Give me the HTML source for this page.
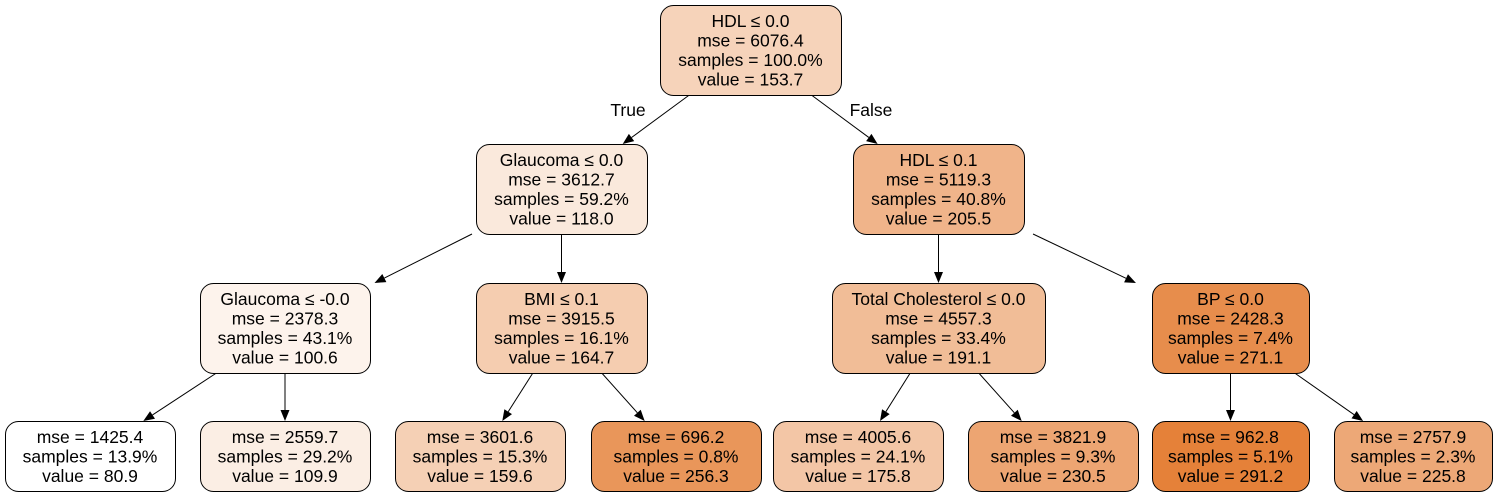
<!DOCTYPE html>
<html><head><meta charset="utf-8"><style>
html,body{margin:0;padding:0;background:#fff;}
svg{display:block;font-family:"Liberation Sans",Arial,sans-serif;}
</style></head><body>
<svg id="tree" width="1498" height="497" viewBox="0 0 1498 497"></svg>
<script>
const labels=[["HDL ≤ 0.0","mse = 6076.4","samples = 100.0%","value = 153.7"],
["Glaucoma ≤ 0.0","mse = 3612.7","samples = 59.2%","value = 118.0"],
["HDL ≤ 0.1","mse = 5119.3","samples = 40.8%","value = 205.5"],
["Glaucoma ≤ -0.0","mse = 2378.3","samples = 43.1%","value = 100.6"],
["BMI ≤ 0.1","mse = 3915.5","samples = 16.1%","value = 164.7"],
["Total Cholesterol ≤ 0.0","mse = 4557.3","samples = 33.4%","value = 191.1"],
["BP ≤ 0.0","mse = 2428.3","samples = 7.4%","value = 271.1"],
["mse = 1425.4","samples = 13.9%","value = 80.9"],
["mse = 2559.7","samples = 29.2%","value = 109.9"],
["mse = 3601.6","samples = 15.3%","value = 159.6"],
["mse = 696.2","samples = 0.8%","value = 256.3"],
["mse = 4005.6","samples = 24.1%","value = 175.8"],
["mse = 3821.9","samples = 9.3%","value = 230.5"],
["mse = 962.8","samples = 5.1%","value = 291.2"],
["mse = 2757.9","samples = 2.3%","value = 225.8"]];
const values=[153.7,118.0,205.5,100.6,164.7,191.1,271.1,80.9,109.9,159.6,256.3,175.8,230.5,291.2,225.8];
const edges=[[0,1],[0,2],[1,3],[1,4],[2,5],[2,6],[3,7],[3,8],[4,9],[4,10],[5,11],[5,12],[6,13],[6,14]];
const boxes=[[660,5,181,90],[476,144,171,90],[853,144,171,90],[200,283,170,90],[476,283,171,90],[832,283,213,90],[1152,283,157,90],
[5,421,170,70],[200,421,170,70],[395,421,170,70],[591,421,170,70],[773,421,170,70],[968,421,170,70],[1152,421,157,70],[1334,421,158,70]];
const svg=document.getElementById('tree');const NS='http://www.w3.org/2000/svg';
const vmin=Math.min(...values),vmax=Math.max(...values);
function col(v){const a=(v-vmin)/(vmax-vmin);const c=[229,129,57];return 'rgb('+c.map(x=>Math.round(255*(1-a)+x*a)).join(',')+')';}
function ctr(b){return [b[0]+b[2]/2,b[1]+b[3]/2];}
edges.forEach(([p,c],i)=>{const P=boxes[p],C=boxes[c];const [px,py]=ctr(P),[cx,cy]=ctr(C);
const y0=P[1]+P[3],y1=C[1];const x0=px+(cx-px)*(y0-py)/(cy-py),x1=px+(cx-px)*(y1-py)/(cy-py);
const dx=x1-x0,dy=y1-y0,L=Math.hypot(dx,dy),ux=dx/L,uy=dy/L;const bx=x1-ux*11,by=y1-uy*11;
const ln=document.createElementNS(NS,'line');


ln.setAttribute('x1',x0);ln.setAttribute('y1',y0);ln.setAttribute('x2',bx);ln.setAttribute('y2',by);ln.setAttribute('stroke','#000');ln.setAttribute('stroke-width','1');svg.appendChild(ln);
const ah=document.createElementNS(NS,'polygon');


ah.setAttribute('points',`${x1},${y1} ${bx-uy*4.5},${by+ux*4.5} ${bx+uy*4.5},${by-ux*4.5}`);svg.appendChild(ah);});
[["True",628,116],["False",871,116]].forEach(t=>{const e=document.createElementNS(NS,'text');


e.setAttribute('x',t[1]);e.setAttribute('y',t[2]);e.setAttribute('text-anchor','middle');e.setAttribute('font-size','17.5');e.textContent=t[0];svg.appendChild(e);});
boxes.forEach((b,i)=>{const g=document.createElementNS(NS,'g');


const r=document.createElementNS(NS,'rect');


r.setAttribute('x',b[0]+0.5);r.setAttribute('y',b[1]+0.5);r.setAttribute('width',b[2]);r.setAttribute('height',b[3]);r.setAttribute('rx','13');r.setAttribute('fill',col(values[i]));r.setAttribute('stroke','#000');g.appendChild(r);
const ls=labels[i];const cx=b[0]+b[2]/2;const lh=19.5;const top=b[1]+b[3]/2-(ls.length*lh)/2;
ls.forEach((s,k)=>{const t=document.createElementNS(NS,'text');


t.setAttribute('x',cx);t.setAttribute('y',top+k*lh+16);t.setAttribute('text-anchor','middle');t.setAttribute('font-size','17.5');t.textContent=s;g.appendChild(t);});
svg.appendChild(g);});
</script>
</body></html>
